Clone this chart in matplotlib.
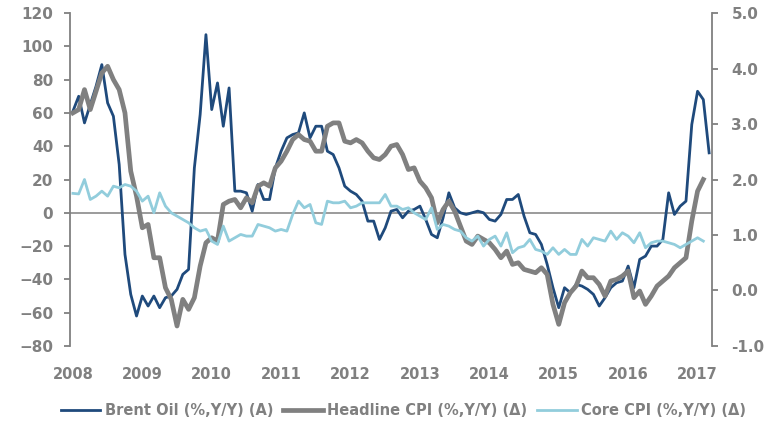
import numpy as np
import matplotlib
matplotlib.use('Agg')
import matplotlib.pyplot as plt
from matplotlib.ticker import FormatStrFormatter

# x axis labels, one per January starting 2008
years = ['2008', '2009', '2010', '2011', '2012', '2013', '2014', '2015', '2016', '2017']

# Brent oil, % y/y (left axis), monthly Jan 2008 - Mar 2017
brent = [61, 70, 54, 65, 76, 89, 66, 58, 29, -25,
         -49, -62, -50, -56, -50, -57, -51, -50, -46, -37,
         -34, 27, 59, 107, 62, 78, 52, 75, 13, 13,
         12, 1, 17, 8, 8, 27, 37, 45, 47, 48,
         60, 45, 52, 52, 37, 35, 27, 16, 13, 11,
         7, -5, -5, -16, -9, 1, 2, -3, 1, 2,
         4, -4, -13, -15, -3, 12, 3, 0, -1, 0,
         1, 0, -4, -5, -1, 8, 8, 11, -2, -12,
         -13, -19, -31, -45, -57, -45, -48, -43, -44, -46,
         -49, -56, -51, -45, -42, -41, -32, -45, -28, -26,
         -20, -20, -16, 12, -1, 4, 7, 53, 73, 68,
         36]

# headline CPI, % y/y (right axis), monthly Jan 2008 - Feb 2017
headline = [3.20, 3.26, 3.62, 3.26, 3.59, 3.92, 4.04, 3.80, 3.62, 3.20,
            2.15, 1.70, 1.13, 1.19, 0.59, 0.59, 0.05, -0.16, -0.64, -0.16,
            -0.34, -0.13, 0.44, 0.86, 0.95, 0.89, 1.55, 1.61, 1.64, 1.49,
            1.67, 1.58, 1.88, 1.94, 1.88, 2.21, 2.33, 2.51, 2.72, 2.81,
            2.72, 2.69, 2.51, 2.51, 2.96, 3.02, 3.02, 2.69, 2.66, 2.72,
            2.66, 2.51, 2.39, 2.36, 2.45, 2.60, 2.63, 2.45, 2.18, 2.21,
            1.97, 1.85, 1.67, 1.22, 1.46, 1.61, 1.43, 1.16, 0.89, 0.83,
            0.98, 0.92, 0.86, 0.74, 0.59, 0.71, 0.47, 0.50, 0.38, 0.35,
            0.32, 0.41, 0.29, -0.25, -0.61, -0.22, -0.04, 0.08, 0.35, 0.23,
            0.23, 0.11, -0.10, 0.17, 0.20, 0.26, 0.35, -0.13, -0.01, -0.25,
            -0.10, 0.08, 0.17, 0.26, 0.41, 0.50, 0.59, 1.25, 1.79, 2.00]

# core CPI, % y/y (right axis), monthly Jan 2008 - Feb 2017
core = [1.75, 1.74, 2.00, 1.64, 1.70, 1.79, 1.70, 1.88, 1.85, 1.91,
        1.88, 1.79, 1.61, 1.70, 1.40, 1.76, 1.52, 1.40, 1.34, 1.28,
        1.22, 1.13, 1.07, 1.10, 0.89, 0.83, 1.16, 0.89, 0.95, 1.01,
        0.98, 0.98, 1.19, 1.16, 1.13, 1.07, 1.10, 1.07, 1.37, 1.61,
        1.49, 1.55, 1.22, 1.19, 1.61, 1.58, 1.58, 1.61, 1.49, 1.52,
        1.58, 1.58, 1.58, 1.58, 1.73, 1.52, 1.52, 1.46, 1.49, 1.40,
        1.34, 1.28, 1.49, 1.10, 1.19, 1.16, 1.10, 1.07, 0.95, 0.89,
        0.98, 0.80, 0.92, 0.98, 0.80, 1.04, 0.68, 0.77, 0.80, 0.92,
        0.74, 0.71, 0.65, 0.77, 0.65, 0.74, 0.65, 0.65, 0.92, 0.80,
        0.95, 0.92, 0.89, 1.07, 0.92, 1.04, 0.98, 0.86, 1.04, 0.77,
        0.86, 0.89, 0.89, 0.86, 0.83, 0.77, 0.83, 0.89, 0.95, 0.89]

NAVY = '#1F4A7C'
GREY = '#808080'
LIGHT = '#92CDDC'


def main():
    """
    draws brent oil on the left axis and the two cpi series on a twin right axis
    :return: none
    """
    plt.rcParams['font.family'] = 'DejaVu Sans'
    plt.rcParams['font.weight'] = 'bold'

    fig = plt.figure(figsize=(7.72, 4.24), dpi=100)
    ax = fig.add_axes([0.0907, 0.184, 0.8316, 0.7853])
    ax2 = ax.twinx()

    # zero line acts as the horizontal axis
    ax.axhline(0, color=GREY, lw=1.1, zorder=1)
    l1, = ax.plot(np.arange(len(brent)), brent, color=NAVY, lw=2.0, zorder=3,
                  label='Brent Oil (%,Y/Y) (A)')
    l2, = ax2.plot(np.arange(len(headline)), headline, color=GREY, lw=3.4, zorder=2,
                   label='Headline CPI (%,Y/Y) (\u0394)')
    l3, = ax2.plot(np.arange(len(core)), core, color=LIGHT, lw=2.0, zorder=3,
                   label='Core CPI (%,Y/Y) (\u0394)')

    ax.set_xlim(-0.5, 110.5)
    ax.set_ylim(-80, 120)
    ax.set_yticks(range(-80, 121, 20))
    ax2.set_ylim(-1, 5)
    ax2.set_yticks(np.arange(-1, 5.01, 1))
    ax2.yaxis.set_major_formatter(FormatStrFormatter('%.1f'))

    ax.set_xticks(range(0, 12 * len(years), 12))
    ax.set_xticklabels(years)

    for a in (ax, ax2):
        for side in ('top', 'bottom'):
            a.spines[side].set_visible(False)
    ax.spines['right'].set_visible(False)
    ax2.spines['left'].set_visible(False)
    ax.spines['left'].set_color(GREY)
    ax.spines['left'].set_linewidth(1.3)
    ax2.spines['right'].set_color(GREY)
    ax2.spines['right'].set_linewidth(1.3)

    ax.tick_params(axis='y', direction='out', length=4, width=1.3, color=GREY,
                   labelcolor=GREY, labelsize=11, pad=8)
    ax2.tick_params(axis='y', direction='out', length=4, width=1.3, color=GREY,
                    labelcolor=GREY, labelsize=11, pad=10)
    ax.tick_params(axis='x', length=0, labelcolor=GREY, labelsize=10.5, pad=15)

    leg = fig.legend(handles=[l1, l2, l3], loc='center', bbox_to_anchor=(0.5227, 0.031),
                     ncol=3, frameon=False, fontsize=10.5, handlelength=2.7,
                     handletextpad=0.3, columnspacing=0.7, borderpad=0)
    for t in leg.get_texts():
        t.set_color(GREY)

    fig.savefig('out.png', dpi=100)


if __name__ == '__main__':
    main()
